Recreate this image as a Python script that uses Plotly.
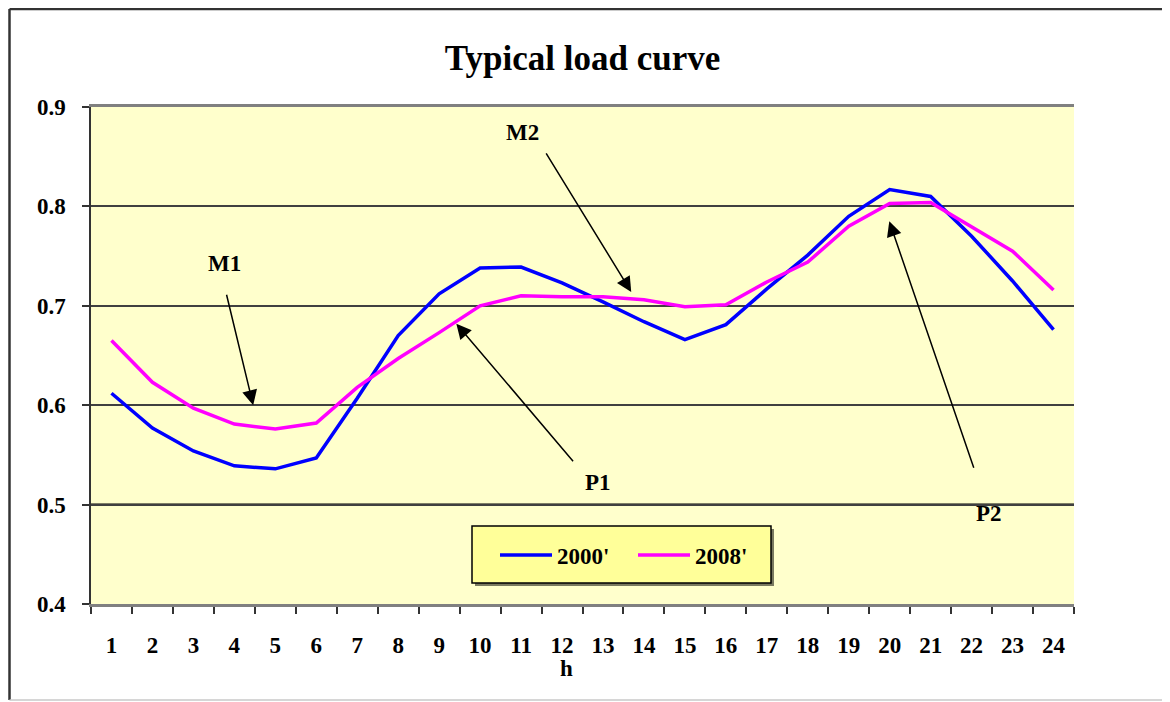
import plotly.graph_objects as go

hours = [str(h) for h in range(1, 25)]
load_2000 = [0.612, 0.577, 0.554, 0.539, 0.536, 0.547, 0.607, 0.670, 0.712, 0.738,
             0.739, 0.723, 0.704, 0.684, 0.666, 0.681, 0.717, 0.751, 0.790, 0.817,
             0.810, 0.770, 0.725, 0.676]
load_2008 = [0.665, 0.623, 0.597, 0.581, 0.576, 0.582, 0.618, 0.647, 0.673, 0.700,
             0.710, 0.709, 0.709, 0.706, 0.699, 0.701, 0.724, 0.744, 0.780, 0.803,
             0.804, 0.780, 0.755, 0.716]
series_names = ["2000'", "2008'"]
y_ticks = [0.4, 0.5, 0.6, 0.7, 0.8, 0.9]

FONT = "Liberation Serif"

fig = go.Figure()
fig.add_trace(go.Scatter(x=hours, y=load_2000, mode="lines", name=series_names[0],
                         line=dict(color="#0000FF", width=3.5)))
fig.add_trace(go.Scatter(x=hours, y=load_2008, mode="lines", name=series_names[1],
                         line=dict(color="#FF00FF", width=3.5)))

# page has an 8px body margin; figure sized so it fits the 1170x702 window
OFF = 8
W, H = 1170 - OFF, 702 - OFF
L, R, T, B = 91 - OFF, 96, 107 - OFF, 98
PW, PH = W - L - R, H - T - B


def px(xp):
    return (xp - OFF - L) / PW


def py(yp):
    return (H - B - (yp - OFF)) / PH


shapes = []
# outer frame
shapes.append(dict(type="line", xref="paper", yref="paper", x0=px(9.5), x1=px(1166), y0=py(9), y1=py(9),
                   line=dict(color="#333333", width=2.5)))
shapes.append(dict(type="line", xref="paper", yref="paper", x0=px(9.5), x1=px(9.5), y0=py(9), y1=py(700),
                   line=dict(color="#333333", width=2.5)))
shapes.append(dict(type="line", xref="paper", yref="paper", x0=px(1166), x1=px(1166), y0=py(9), y1=py(700),
                   line=dict(color="#BBBBBB", width=2)))
shapes.append(dict(type="line", xref="paper", yref="paper", x0=px(9.5), x1=px(1166), y0=py(700), y1=py(700),
                   line=dict(color="#C8C8C8", width=1.5)))
# black 0.5 gridline
shapes.append(dict(type="line", xref="paper", yref="y", x0=0, x1=1, y0=0.5, y1=0.5,
                   line=dict(color="#000000", width=2.2), layer="between"))
# legend box shadow + box
shapes.append(dict(type="rect", xref="paper", yref="paper", x0=px(475), x1=px(774), y0=py(529), y1=py(586),
                   fillcolor="#7a7a60", line=dict(width=0), layer="above"))
shapes.append(dict(type="rect", xref="paper", yref="paper", x0=px(472), x1=px(771), y0=py(526), y1=py(583),
                   fillcolor="#FFFF99", line=dict(color="#000000", width=1.5), layer="above"))

annotations = []
lab_font = dict(family=FONT, size=23, color="#000000", weight="bold")
labels = [("M1", 2.77, 0.743), ("M2", 10.04, 0.874), ("P1", 11.87, 0.522), ("P2", 21.43, 0.4915)]
for t, x, y in labels:
    annotations.append(dict(x=x, y=y, xref="x", yref="y", text=t, showarrow=False,
                            xanchor="center", yanchor="middle", font=lab_font))
arrows = [(3.46, 0.600, -27, -112), (12.69, 0.714, -86, -140), (8.42, 0.682, 118, 139), (18.99, 0.785, 85, 248)]
for x, y, ax, ay in arrows:
    annotations.append(dict(x=x, y=y, xref="x", yref="y", text="", showarrow=True, ax=ax, ay=ay,
                            arrowhead=2, arrowsize=2, arrowwidth=1.5, arrowcolor="#000000"))
annotations.append(dict(x=px(566), y=py(668), xref="paper", yref="paper", text="h", showarrow=False,
                        xanchor="center", yanchor="middle",
                        font=dict(family=FONT, size=23, color="#000000", weight="bold")))

fig.update_layout(
    width=W, height=H,
    margin=dict(l=L, r=R, t=T, b=B),
    paper_bgcolor="#FFFFFF",
    plot_bgcolor="#FFFFCC",
    title=dict(text="Typical load curve", x=0.5, xref="paper", y=1 - (58 - OFF) / H, yref="container",
               xanchor="center", yanchor="middle",
               font=dict(family=FONT, size=35, color="#000000", weight="bold")),
    showlegend=True,
    legend=dict(orientation="h", x=px(495), y=py(555), xanchor="left", yanchor="middle",
                bgcolor="rgba(0,0,0,0)", borderwidth=0, itemwidth=52,
                font=dict(family=FONT, size=23, color="#000000", weight="bold"),
                entrywidth=71, entrywidthmode="pixels"),
    shapes=shapes,
    annotations=annotations,
)

tick_font = dict(family=FONT, size=23, color="#000000", weight="bold")
fig.update_xaxes(type="category", range=[-0.5, 23.5], showgrid=False, showline=True,
                 linecolor="#808080", linewidth=3,
                 mirror=True, ticks="outside", tickson="boundaries", ticklen=7, tickwidth=1.5,
                 tickcolor="#333333", ticklabelstandoff=18, tickfont=tick_font)
fig.update_yaxes(range=[0.4, 0.9], tickvals=y_ticks, tickformat=".1f", showgrid=True,
                 gridcolor="#404040", gridwidth=1.5, zeroline=False,
                 showline=True, linecolor="#333333", linewidth=1.5, ticks="outside", ticklen=7,
                 tickwidth=1.5, tickcolor="#333333", ticklabelstandoff=12, tickfont=tick_font)

fig.write_html("out.html")
